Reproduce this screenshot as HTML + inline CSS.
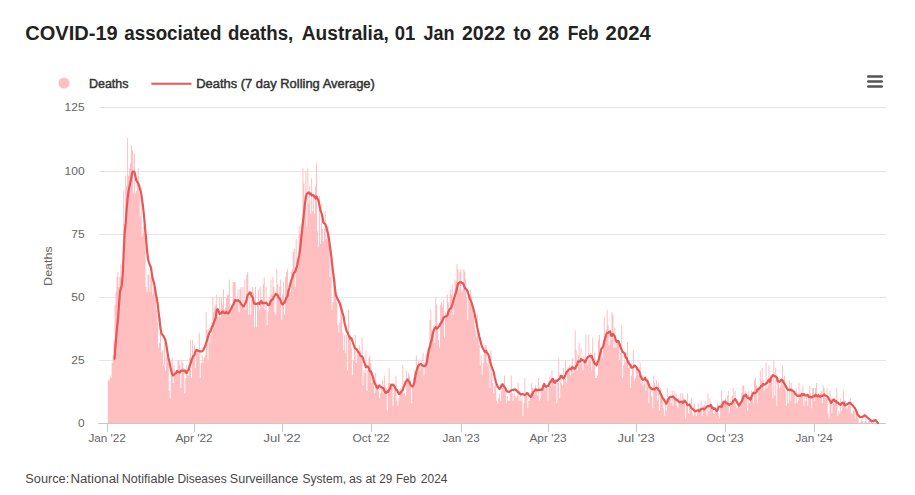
<!DOCTYPE html>
<html><head><meta charset="utf-8"><title>COVID-19 associated deaths, Australia</title>
<style>
html,body{margin:0;padding:0;background:#fff;}
body{width:915px;height:495px;overflow:hidden;}
svg{display:block;font-family:"Liberation Sans",Arial,sans-serif;}
.ax{font-size:11px;fill:#666;}
.lg{font-size:12px;font-weight:normal;fill:#333;stroke:#333;stroke-width:0.45px;}
</style></head><body>
<svg width="915" height="495" viewBox="0 0 915 495">
<rect width="915" height="495" fill="#fff"/>
<text y="39.6" font-size="20" font-weight="bold" fill="#222"><tspan x="25.30" textLength="92.38" lengthAdjust="spacingAndGlyphs">COVID-19</tspan> <tspan x="124.32" textLength="97.04" lengthAdjust="spacingAndGlyphs">associated</tspan> <tspan x="227.98" textLength="65.24" lengthAdjust="spacingAndGlyphs">deaths,</tspan> <tspan x="301.84" textLength="87.02" lengthAdjust="spacingAndGlyphs">Australia,</tspan> <tspan x="394.80" textLength="20.56" lengthAdjust="spacingAndGlyphs">01</tspan> <tspan x="423.48" textLength="31.04" lengthAdjust="spacingAndGlyphs">Jan</tspan> <tspan x="462.00" textLength="43.34" lengthAdjust="spacingAndGlyphs">2022</tspan> <tspan x="513.52" textLength="17.52" lengthAdjust="spacingAndGlyphs">to</tspan> <tspan x="538.00" textLength="21.00" lengthAdjust="spacingAndGlyphs">28</tspan> <tspan x="567.64" textLength="31.04" lengthAdjust="spacingAndGlyphs">Feb</tspan> <tspan x="605.64" textLength="45.02" lengthAdjust="spacingAndGlyphs">2024</tspan></text>
<circle cx="64" cy="83.1" r="5.5" fill="#ffbec0"/>
<text x="89" y="87.7" class="lg" textLength="39.5" lengthAdjust="spacingAndGlyphs">Deaths</text>
<path d="M151.3 83.8H191.5" stroke="#e95656" stroke-width="2"/>
<text x="196.3" y="87.7" class="lg" textLength="178.5" lengthAdjust="spacingAndGlyphs">Deaths (7 day Rolling Average)</text>
<path d="M868.3 76.5H881.7M868.3 81.5H881.7M868.3 86.5H881.7" stroke="#555" stroke-width="2.7" stroke-linecap="round"/>
<path d="M99 107.5H886" stroke="#e6e6e6" stroke-width="1"/><path d="M99 171.5H886" stroke="#e6e6e6" stroke-width="1"/><path d="M99 234.5H886" stroke="#e6e6e6" stroke-width="1"/><path d="M99 297.5H886" stroke="#e6e6e6" stroke-width="1"/><path d="M99 360.5H886" stroke="#e6e6e6" stroke-width="1"/>
<text x="84.6" y="426.9" text-anchor="end" class="ax" textLength="6.6" lengthAdjust="spacingAndGlyphs">0</text><text x="84.6" y="363.9" text-anchor="end" class="ax" textLength="13.4" lengthAdjust="spacingAndGlyphs">25</text><text x="84.6" y="300.9" text-anchor="end" class="ax" textLength="13.4" lengthAdjust="spacingAndGlyphs">50</text><text x="84.6" y="237.9" text-anchor="end" class="ax" textLength="13.4" lengthAdjust="spacingAndGlyphs">75</text><text x="84.6" y="174.9" text-anchor="end" class="ax" textLength="20.0" lengthAdjust="spacingAndGlyphs">100</text><text x="84.6" y="110.9" text-anchor="end" class="ax" textLength="20.0" lengthAdjust="spacingAndGlyphs">125</text>
<text transform="translate(52.2 266.1) rotate(-90)" text-anchor="middle" class="ax" font-size="12" textLength="39.6" lengthAdjust="spacingAndGlyphs">Deaths</text>
<path d="M107.75 423.5L107.75 380.54L108.71 380.54L108.71 380.54L109.68 380.54L109.68 375.48L110.65 375.48L110.65 378.01L111.62 378.01L111.62 362.85L112.59 362.85L112.59 355.27L113.56 355.27L113.56 340.10L114.53 340.10L114.53 304.72L115.50 304.72L115.50 292.09L116.47 292.09L116.47 276.92L117.43 276.92L117.43 271.87L118.40 271.87L118.40 287.03L119.37 287.03L119.37 276.92L120.34 276.92L120.34 264.29L121.31 264.29L121.31 281.98L122.28 281.98L122.28 266.81L123.25 266.81L123.25 191.00L124.22 191.00L124.22 223.85L125.19 223.85L125.19 175.83L126.15 175.83L126.15 185.94L127.12 185.94L127.12 137.93L128.09 137.93L128.09 175.83L129.06 175.83L129.06 168.25L130.03 168.25L130.03 163.20L131.00 163.20L131.00 145.51L131.97 145.51L131.97 150.56L132.94 150.56L132.94 193.52L133.90 193.52L133.90 153.09L134.87 153.09L134.87 193.52L135.84 193.52L135.84 191.00L136.81 191.00L136.81 178.36L137.78 178.36L137.78 168.25L138.75 168.25L138.75 193.52L139.72 193.52L139.72 216.27L140.69 216.27L140.69 188.47L141.66 188.47L141.66 236.49L142.62 236.49L142.62 226.38L143.59 226.38L143.59 233.96L144.56 233.96L144.56 228.91L145.53 228.91L145.53 287.03L146.50 287.03L146.50 292.09L147.47 292.09L147.47 274.40L148.44 274.40L148.44 274.40L149.41 274.40L149.41 292.09L150.38 292.09L150.38 276.92L151.34 276.92L151.34 266.81L152.31 266.81L152.31 294.61L153.28 294.61L153.28 287.03L154.25 287.03L154.25 287.03L155.22 287.03L155.22 287.03L156.19 287.03L156.19 309.78L157.16 309.78L157.16 322.41L158.13 322.41L158.13 347.68L159.10 347.68L159.10 342.63L160.06 342.63L160.06 317.36L161.03 317.36L161.03 352.74L162.00 352.74L162.00 350.21L162.97 350.21L162.97 365.37L163.94 365.37L163.94 342.63L164.91 342.63L164.91 370.43L165.88 370.43L165.88 357.79L166.85 357.79L166.85 350.21L167.81 350.21L167.81 362.85L168.78 362.85L168.78 390.65L169.75 390.65L169.75 398.23L170.72 398.23L170.72 372.96L171.69 372.96L171.69 357.79L172.66 357.79L172.66 383.06L173.63 383.06L173.63 365.37L174.60 365.37L174.60 372.96L175.57 372.96L175.57 372.96L176.53 372.96L176.53 370.43L177.50 370.43L177.50 360.32L178.47 360.32L178.47 360.32L179.44 360.32L179.44 365.37L180.41 365.37L180.41 388.12L181.38 388.12L181.38 360.32L182.35 360.32L182.35 362.85L183.32 362.85L183.32 367.90L184.29 367.90L184.29 393.17L185.25 393.17L185.25 378.01L186.22 378.01L186.22 365.37L187.19 365.37L187.19 375.48L188.16 375.48L188.16 375.48L189.13 375.48L189.13 357.79L190.10 357.79L190.10 340.10L191.07 340.10L191.07 378.01L192.04 378.01L192.04 340.10L193.01 340.10L193.01 355.27L193.97 355.27L193.97 345.16L194.94 345.16L194.94 367.90L195.91 367.90L195.91 352.74L196.88 352.74L196.88 352.74L197.85 352.74L197.85 352.74L198.82 352.74L198.82 332.52L199.79 332.52L199.79 378.01L200.76 378.01L200.76 362.85L201.72 362.85L201.72 355.27L202.69 355.27L202.69 362.85L203.66 362.85L203.66 357.79L204.63 357.79L204.63 355.27L205.60 355.27L205.60 312.30L206.57 312.30L206.57 329.99L207.54 329.99L207.54 360.32L208.51 360.32L208.51 327.47L209.48 327.47L209.48 342.63L210.44 342.63L210.44 335.05L211.41 335.05L211.41 322.41L212.38 322.41L212.38 297.14L213.35 297.14L213.35 312.30L214.32 312.30L214.32 307.25L215.29 307.25L215.29 304.72L216.26 304.72L216.26 294.61L217.23 294.61L217.23 317.36L218.20 317.36L218.20 317.36L219.16 317.36L219.16 297.14L220.13 297.14L220.13 317.36L221.10 317.36L221.10 297.14L222.07 297.14L222.07 304.72L223.04 304.72L223.04 289.56L224.01 289.56L224.01 309.78L224.98 309.78L224.98 307.25L225.95 307.25L225.95 297.14L226.92 297.14L226.92 294.61L227.88 294.61L227.88 294.61L228.85 294.61L228.85 279.45L229.82 279.45L229.82 309.78L230.79 309.78L230.79 312.30L231.76 312.30L231.76 304.72L232.73 304.72L232.73 281.98L233.70 281.98L233.70 281.98L234.67 281.98L234.67 281.98L235.64 281.98L235.64 302.19L236.60 302.19L236.60 302.19L237.57 302.19L237.57 289.56L238.54 289.56L238.54 312.30L239.51 312.30L239.51 289.56L240.48 289.56L240.48 287.03L241.45 287.03L241.45 307.25L242.42 307.25L242.42 287.03L243.39 287.03L243.39 309.78L244.35 309.78L244.35 279.45L245.32 279.45L245.32 309.78L246.29 309.78L246.29 274.40L247.26 274.40L247.26 271.87L248.23 271.87L248.23 314.83L249.20 314.83L249.20 297.14L250.17 297.14L250.17 314.83L251.14 314.83L251.14 299.67L252.11 299.67L252.11 287.03L253.07 287.03L253.07 292.09L254.04 292.09L254.04 327.47L255.01 327.47L255.01 287.03L255.98 287.03L255.98 327.47L256.95 327.47L256.95 304.72L257.92 304.72L257.92 289.56L258.89 289.56L258.89 309.78L259.86 309.78L259.86 287.03L260.83 287.03L260.83 304.72L261.79 304.72L261.79 307.25L262.76 307.25L262.76 284.50L263.73 284.50L263.73 276.92L264.70 276.92L264.70 309.78L265.67 309.78L265.67 287.03L266.64 287.03L266.64 324.94L267.61 324.94L267.61 312.30L268.58 312.30L268.58 297.14L269.55 297.14L269.55 302.19L270.51 302.19L270.51 279.45L271.48 279.45L271.48 294.61L272.45 294.61L272.45 276.92L273.42 276.92L273.42 287.03L274.39 287.03L274.39 312.30L275.36 312.30L275.36 314.83L276.33 314.83L276.33 269.34L277.30 269.34L277.30 284.50L278.26 284.50L278.26 294.61L279.23 294.61L279.23 287.03L280.20 287.03L280.20 279.45L281.17 279.45L281.17 319.88L282.14 319.88L282.14 294.61L283.11 294.61L283.11 281.98L284.08 281.98L284.08 314.83L285.05 314.83L285.05 276.92L286.02 276.92L286.02 271.87L286.98 271.87L286.98 269.34L287.95 269.34L287.95 289.56L288.92 289.56L288.92 284.50L289.89 284.50L289.89 292.09L290.86 292.09L290.86 271.87L291.83 271.87L291.83 269.34L292.80 269.34L292.80 251.65L293.77 251.65L293.77 249.12L294.74 249.12L294.74 287.03L295.70 287.03L295.70 239.01L296.67 239.01L296.67 261.76L297.64 261.76L297.64 266.81L298.61 266.81L298.61 226.38L299.58 226.38L299.58 233.96L300.55 233.96L300.55 223.85L301.52 223.85L301.52 231.43L302.49 231.43L302.49 168.25L303.46 168.25L303.46 183.42L304.42 183.42L304.42 206.16L305.39 206.16L305.39 170.78L306.36 170.78L306.36 226.38L307.33 226.38L307.33 168.25L308.30 168.25L308.30 203.63L309.27 203.63L309.27 185.94L310.24 185.94L310.24 213.74L311.21 213.74L311.21 178.36L312.18 178.36L312.18 211.22L313.14 211.22L313.14 196.05L314.11 196.05L314.11 213.74L315.08 213.74L315.08 185.94L316.05 185.94L316.05 163.20L317.02 163.20L317.02 231.43L317.99 231.43L317.99 246.60L318.96 246.60L318.96 196.05L319.93 196.05L319.93 244.07L320.89 244.07L320.89 203.63L321.86 203.63L321.86 228.91L322.83 228.91L322.83 241.54L323.80 241.54L323.80 228.91L324.77 228.91L324.77 211.22L325.74 211.22L325.74 239.01L326.71 239.01L326.71 233.96L327.68 233.96L327.68 226.38L328.65 226.38L328.65 241.54L329.61 241.54L329.61 276.92L330.58 276.92L330.58 259.23L331.55 259.23L331.55 309.78L332.52 309.78L332.52 302.19L333.49 302.19L333.49 284.50L334.46 284.50L334.46 279.45L335.43 279.45L335.43 292.09L336.40 292.09L336.40 302.19L337.37 302.19L337.37 324.94L338.33 324.94L338.33 332.52L339.30 332.52L339.30 322.41L340.27 322.41L340.27 304.72L341.24 304.72L341.24 302.19L342.21 302.19L342.21 332.52L343.18 332.52L343.18 350.21L344.15 350.21L344.15 335.05L345.12 335.05L345.12 352.74L346.09 352.74L346.09 335.05L347.05 335.05L347.05 370.43L348.02 370.43L348.02 309.78L348.99 309.78L348.99 337.58L349.96 337.58L349.96 335.05L350.93 335.05L350.93 347.68L351.90 347.68L351.90 375.48L352.87 375.48L352.87 360.32L353.84 360.32L353.84 350.21L354.80 350.21L354.80 335.05L355.77 335.05L355.77 362.85L356.74 362.85L356.74 350.21L357.71 350.21L357.71 355.27L358.68 355.27L358.68 345.16L359.65 345.16L359.65 350.21L360.62 350.21L360.62 355.27L361.59 355.27L361.59 337.58L362.56 337.58L362.56 385.59L363.52 385.59L363.52 370.43L364.49 370.43L364.49 372.96L365.46 372.96L365.46 350.21L366.43 350.21L366.43 390.65L367.40 390.65L367.40 370.43L368.37 370.43L368.37 357.79L369.34 357.79L369.34 355.27L370.31 355.27L370.31 362.85L371.28 362.85L371.28 383.06L372.24 383.06L372.24 378.01L373.21 378.01L373.21 378.01L374.18 378.01L374.18 393.17L375.15 393.17L375.15 372.96L376.12 372.96L376.12 388.12L377.09 388.12L377.09 385.59L378.06 385.59L378.06 390.65L379.03 390.65L379.03 398.23L380.00 398.23L380.00 393.17L380.96 393.17L380.96 385.59L381.93 385.59L381.93 380.54L382.90 380.54L382.90 393.17L383.87 393.17L383.87 375.48L384.84 375.48L384.84 385.59L385.81 385.59L385.81 388.12L386.78 388.12L386.78 410.86L387.75 410.86L387.75 383.06L388.71 383.06L388.71 367.90L389.68 367.90L389.68 383.06L390.65 383.06L390.65 388.12L391.62 388.12L391.62 383.06L392.59 383.06L392.59 405.81L393.56 405.81L393.56 383.06L394.53 383.06L394.53 390.65L395.50 390.65L395.50 375.48L396.47 375.48L396.47 400.76L397.43 400.76L397.43 405.81L398.40 405.81L398.40 398.23L399.37 398.23L399.37 390.65L400.34 390.65L400.34 388.12L401.31 388.12L401.31 390.65L402.28 390.65L402.28 365.37L403.25 365.37L403.25 393.17L404.22 393.17L404.22 393.17L405.19 393.17L405.19 395.70L406.15 395.70L406.15 370.43L407.12 370.43L407.12 378.01L408.09 378.01L408.09 372.96L409.06 372.96L409.06 375.48L410.03 375.48L410.03 380.54L411.00 380.54L411.00 403.28L411.97 403.28L411.97 388.12L412.94 388.12L412.94 378.01L413.91 378.01L413.91 370.43L414.87 370.43L414.87 378.01L415.84 378.01L415.84 355.27L416.81 355.27L416.81 370.43L417.78 370.43L417.78 360.32L418.75 360.32L418.75 365.37L419.72 365.37L419.72 370.43L420.69 370.43L420.69 360.32L421.66 360.32L421.66 367.90L422.63 367.90L422.63 352.74L423.59 352.74L423.59 375.48L424.56 375.48L424.56 362.85L425.53 362.85L425.53 355.27L426.50 355.27L426.50 352.74L427.47 352.74L427.47 347.68L428.44 347.68L428.44 347.68L429.41 347.68L429.41 319.88L430.38 319.88L430.38 309.78L431.34 309.78L431.34 329.99L432.31 329.99L432.31 335.05L433.28 335.05L433.28 324.94L434.25 324.94L434.25 342.63L435.22 342.63L435.22 297.14L436.19 297.14L436.19 304.72L437.16 304.72L437.16 327.47L438.13 327.47L438.13 340.10L439.10 340.10L439.10 347.68L440.06 347.68L440.06 304.72L441.03 304.72L441.03 302.19L442.00 302.19L442.00 307.25L442.97 307.25L442.97 299.67L443.94 299.67L443.94 337.58L444.91 337.58L444.91 312.30L445.88 312.30L445.88 314.83L446.85 314.83L446.85 294.61L447.82 294.61L447.82 302.19L448.78 302.19L448.78 309.78L449.75 309.78L449.75 289.56L450.72 289.56L450.72 294.61L451.69 294.61L451.69 284.50L452.66 284.50L452.66 314.83L453.63 314.83L453.63 297.14L454.60 297.14L454.60 279.45L455.57 279.45L455.57 281.98L456.54 281.98L456.54 264.29L457.50 264.29L457.50 269.34L458.47 269.34L458.47 289.56L459.44 289.56L459.44 271.87L460.41 271.87L460.41 269.34L461.38 269.34L461.38 292.09L462.35 292.09L462.35 289.56L463.32 289.56L463.32 269.34L464.29 269.34L464.29 271.87L465.25 271.87L465.25 279.45L466.22 279.45L466.22 297.14L467.19 297.14L467.19 319.88L468.16 319.88L468.16 294.61L469.13 294.61L469.13 302.19L470.10 302.19L470.10 289.56L471.07 289.56L471.07 297.14L472.04 297.14L472.04 307.25L473.01 307.25L473.01 314.83L473.97 314.83L473.97 324.94L474.94 324.94L474.94 329.99L475.91 329.99L475.91 337.58L476.88 337.58L476.88 314.83L477.85 314.83L477.85 332.52L478.82 332.52L478.82 345.16L479.79 345.16L479.79 365.37L480.76 365.37L480.76 355.27L481.73 355.27L481.73 375.48L482.69 375.48L482.69 362.85L483.66 362.85L483.66 350.21L484.63 350.21L484.63 345.16L485.60 345.16L485.60 345.16L486.57 345.16L486.57 362.85L487.54 362.85L487.54 365.37L488.51 365.37L488.51 355.27L489.48 355.27L489.48 388.12L490.45 388.12L490.45 350.21L491.41 350.21L491.41 372.96L492.38 372.96L492.38 383.06L493.35 383.06L493.35 393.17L494.32 393.17L494.32 385.59L495.29 385.59L495.29 378.01L496.26 378.01L496.26 400.76L497.23 400.76L497.23 403.28L498.20 403.28L498.20 398.23L499.17 398.23L499.17 393.17L500.13 393.17L500.13 400.76L501.10 400.76L501.10 390.65L502.07 390.65L502.07 388.12L503.04 388.12L503.04 388.12L504.01 388.12L504.01 375.48L504.98 375.48L504.98 388.12L505.95 388.12L505.95 403.28L506.92 403.28L506.92 395.70L507.88 395.70L507.88 400.76L508.85 400.76L508.85 400.76L509.82 400.76L509.82 393.17L510.79 393.17L510.79 375.48L511.76 375.48L511.76 393.17L512.73 393.17L512.73 400.76L513.70 400.76L513.70 393.17L514.67 393.17L514.67 395.70L515.64 395.70L515.64 398.23L516.60 398.23L516.60 395.70L517.57 395.70L517.57 383.06L518.54 383.06L518.54 400.76L519.51 400.76L519.51 395.70L520.48 395.70L520.48 400.76L521.45 400.76L521.45 398.23L522.42 398.23L522.42 415.92L523.39 415.92L523.39 403.28L524.36 403.28L524.36 378.01L525.32 378.01L525.32 395.70L526.29 395.70L526.29 395.70L527.26 395.70L527.26 408.34L528.23 408.34L528.23 400.76L529.20 400.76L529.20 400.76L530.17 400.76L530.17 393.17L531.14 393.17L531.14 383.06L532.11 383.06L532.11 388.12L533.08 388.12L533.08 393.17L534.04 393.17L534.04 393.17L535.01 393.17L535.01 385.59L535.98 385.59L535.98 388.12L536.95 388.12L536.95 395.70L537.92 395.70L537.92 378.01L538.89 378.01L538.89 400.76L539.86 400.76L539.86 398.23L540.83 398.23L540.83 388.12L541.79 388.12L541.79 390.65L542.76 390.65L542.76 385.59L543.73 385.59L543.73 383.06L544.70 383.06L544.70 390.65L545.67 390.65L545.67 385.59L546.64 385.59L546.64 388.12L547.61 388.12L547.61 400.76L548.58 400.76L548.58 380.54L549.55 380.54L549.55 375.48L550.51 375.48L550.51 385.59L551.48 385.59L551.48 370.43L552.45 370.43L552.45 378.01L553.42 378.01L553.42 385.59L554.39 385.59L554.39 385.59L555.36 385.59L555.36 383.06L556.33 383.06L556.33 403.28L557.30 403.28L557.30 383.06L558.27 383.06L558.27 357.79L559.23 357.79L559.23 398.23L560.20 398.23L560.20 380.54L561.17 380.54L561.17 383.06L562.14 383.06L562.14 385.59L563.11 385.59L563.11 367.90L564.08 367.90L564.08 380.54L565.05 380.54L565.05 360.32L566.02 360.32L566.02 383.06L566.99 383.06L566.99 370.43L567.95 370.43L567.95 372.96L568.92 372.96L568.92 365.37L569.89 365.37L569.89 375.48L570.86 375.48L570.86 365.37L571.83 365.37L571.83 357.79L572.80 357.79L572.80 372.96L573.77 372.96L573.77 367.90L574.74 367.90L574.74 329.99L575.70 329.99L575.70 350.21L576.67 350.21L576.67 370.43L577.64 370.43L577.64 355.27L578.61 355.27L578.61 342.63L579.58 342.63L579.58 365.37L580.55 365.37L580.55 347.68L581.52 347.68L581.52 362.85L582.49 362.85L582.49 370.43L583.46 370.43L583.46 355.27L584.42 355.27L584.42 362.85L585.39 362.85L585.39 335.05L586.36 335.05L586.36 357.79L587.33 357.79L587.33 365.37L588.30 365.37L588.30 335.05L589.27 335.05L589.27 360.32L590.24 360.32L590.24 352.74L591.21 352.74L591.21 370.43L592.18 370.43L592.18 337.58L593.14 337.58L593.14 365.37L594.11 365.37L594.11 352.74L595.08 352.74L595.08 378.01L596.05 378.01L596.05 378.01L597.02 378.01L597.02 375.48L597.99 375.48L597.99 340.10L598.96 340.10L598.96 335.05L599.93 335.05L599.93 355.27L600.90 355.27L600.90 347.68L601.86 347.68L601.86 357.79L602.83 357.79L602.83 340.10L603.80 340.10L603.80 317.36L604.77 317.36L604.77 337.58L605.74 337.58L605.74 329.99L606.71 329.99L606.71 309.78L607.68 309.78L607.68 324.94L608.65 324.94L608.65 345.16L609.62 345.16L609.62 329.99L610.58 329.99L610.58 340.10L611.55 340.10L611.55 312.30L612.52 312.30L612.52 314.83L613.49 314.83L613.49 347.68L614.46 347.68L614.46 327.47L615.43 327.47L615.43 347.68L616.40 347.68L616.40 340.10L617.37 340.10L617.37 342.63L618.33 342.63L618.33 342.63L619.30 342.63L619.30 360.32L620.27 360.32L620.27 352.74L621.24 352.74L621.24 324.94L622.21 324.94L622.21 378.01L623.18 378.01L623.18 365.37L624.15 365.37L624.15 360.32L625.12 360.32L625.12 362.85L626.09 362.85L626.09 352.74L627.05 352.74L627.05 342.63L628.02 342.63L628.02 367.90L628.99 367.90L628.99 360.32L629.96 360.32L629.96 388.12L630.93 388.12L630.93 375.48L631.90 375.48L631.90 367.90L632.87 367.90L632.87 350.21L633.84 350.21L633.84 380.54L634.81 380.54L634.81 378.01L635.77 378.01L635.77 367.90L636.74 367.90L636.74 367.90L637.71 367.90L637.71 375.48L638.68 375.48L638.68 375.48L639.65 375.48L639.65 362.85L640.62 362.85L640.62 383.06L641.59 383.06L641.59 375.48L642.56 375.48L642.56 385.59L643.53 385.59L643.53 383.06L644.49 383.06L644.49 375.48L645.46 375.48L645.46 390.65L646.43 390.65L646.43 380.54L647.40 380.54L647.40 378.01L648.37 378.01L648.37 403.28L649.34 403.28L649.34 388.12L650.31 388.12L650.31 390.65L651.28 390.65L651.28 395.70L652.24 395.70L652.24 408.34L653.21 408.34L653.21 375.48L654.18 375.48L654.18 383.06L655.15 383.06L655.15 390.65L656.12 390.65L656.12 380.54L657.09 380.54L657.09 400.76L658.06 400.76L658.06 383.06L659.03 383.06L659.03 410.86L660.00 410.86L660.00 388.12L660.96 388.12L660.96 395.70L661.93 395.70L661.93 395.70L662.90 395.70L662.90 408.34L663.87 408.34L663.87 415.92L664.84 415.92L664.84 403.28L665.81 403.28L665.81 410.86L666.78 410.86L666.78 388.12L667.75 388.12L667.75 400.76L668.72 400.76L668.72 398.23L669.68 398.23L669.68 398.23L670.65 398.23L670.65 403.28L671.62 403.28L671.62 390.65L672.59 390.65L672.59 405.81L673.56 405.81L673.56 390.65L674.53 390.65L674.53 400.76L675.50 400.76L675.50 393.17L676.47 393.17L676.47 405.81L677.44 405.81L677.44 408.34L678.40 408.34L678.40 398.23L679.37 398.23L679.37 400.76L680.34 400.76L680.34 393.17L681.31 393.17L681.31 400.76L682.28 400.76L682.28 393.17L683.25 393.17L683.25 398.23L684.22 398.23L684.22 403.28L685.19 403.28L685.19 418.45L686.15 418.45L686.15 403.28L687.12 403.28L687.12 393.17L688.09 393.17L688.09 413.39L689.06 413.39L689.06 408.34L690.03 408.34L690.03 410.86L691.00 410.86L691.00 398.23L691.97 398.23L691.97 413.39L692.94 413.39L692.94 415.92L693.91 415.92L693.91 403.28L694.87 403.28L694.87 413.39L695.84 413.39L695.84 415.92L696.81 415.92L696.81 413.39L697.78 413.39L697.78 403.28L698.75 403.28L698.75 408.34L699.72 408.34L699.72 410.86L700.69 410.86L700.69 400.76L701.66 400.76L701.66 415.92L702.63 415.92L702.63 405.81L703.59 405.81L703.59 405.81L704.56 405.81L704.56 400.76L705.53 400.76L705.53 408.34L706.50 408.34L706.50 415.92L707.47 415.92L707.47 393.17L708.44 393.17L708.44 410.86L709.41 410.86L709.41 398.23L710.38 398.23L710.38 408.34L711.35 408.34L711.35 405.81L712.31 405.81L712.31 408.34L713.28 408.34L713.28 413.39L714.25 413.39L714.25 413.39L715.22 413.39L715.22 408.34L716.19 408.34L716.19 408.34L717.16 408.34L717.16 403.28L718.13 403.28L718.13 413.39L719.10 413.39L719.10 418.45L720.07 418.45L720.07 403.28L721.03 403.28L721.03 390.65L722.00 390.65L722.00 400.76L722.97 400.76L722.97 403.28L723.94 403.28L723.94 403.28L724.91 403.28L724.91 398.23L725.88 398.23L725.88 403.28L726.85 403.28L726.85 395.70L727.82 395.70L727.82 390.65L728.78 390.65L728.78 413.39L729.75 413.39L729.75 400.76L730.72 400.76L730.72 405.81L731.69 405.81L731.69 395.70L732.66 395.70L732.66 388.12L733.63 388.12L733.63 400.76L734.60 400.76L734.60 390.65L735.57 390.65L735.57 405.81L736.54 405.81L736.54 408.34L737.50 408.34L737.50 400.76L738.47 400.76L738.47 405.81L739.44 405.81L739.44 403.28L740.41 403.28L740.41 403.28L741.38 403.28L741.38 393.17L742.35 393.17L742.35 385.59L743.32 385.59L743.32 385.59L744.29 385.59L744.29 395.70L745.26 395.70L745.26 390.65L746.22 390.65L746.22 393.17L747.19 393.17L747.19 410.86L748.16 410.86L748.16 390.65L749.13 390.65L749.13 403.28L750.10 403.28L750.10 395.70L751.07 395.70L751.07 390.65L752.04 390.65L752.04 395.70L753.01 395.70L753.01 403.28L753.98 403.28L753.98 380.54L754.94 380.54L754.94 378.01L755.91 378.01L755.91 385.59L756.88 385.59L756.88 403.28L757.85 403.28L757.85 388.12L758.82 388.12L758.82 388.12L759.79 388.12L759.79 370.43L760.76 370.43L760.76 380.54L761.73 380.54L761.73 367.90L762.69 367.90L762.69 380.54L763.66 380.54L763.66 390.65L764.63 390.65L764.63 388.12L765.60 388.12L765.60 362.85L766.57 362.85L766.57 388.12L767.54 388.12L767.54 385.59L768.51 385.59L768.51 365.37L769.48 365.37L769.48 378.01L770.45 378.01L770.45 375.48L771.41 375.48L771.41 375.48L772.38 375.48L772.38 398.23L773.35 398.23L773.35 360.32L774.32 360.32L774.32 395.70L775.29 395.70L775.29 367.90L776.26 367.90L776.26 405.81L777.23 405.81L777.23 380.54L778.20 380.54L778.20 378.01L779.17 378.01L779.17 388.12L780.13 388.12L780.13 385.59L781.10 385.59L781.10 378.01L782.07 378.01L782.07 365.37L783.04 365.37L783.04 380.54L784.01 380.54L784.01 375.48L784.98 375.48L784.98 390.65L785.95 390.65L785.95 405.81L786.92 405.81L786.92 388.12L787.89 388.12L787.89 403.28L788.85 403.28L788.85 380.54L789.82 380.54L789.82 400.76L790.79 400.76L790.79 383.06L791.76 383.06L791.76 390.65L792.73 390.65L792.73 393.17L793.70 393.17L793.70 395.70L794.67 395.70L794.67 403.28L795.64 403.28L795.64 388.12L796.61 388.12L796.61 403.28L797.57 403.28L797.57 400.76L798.54 400.76L798.54 383.06L799.51 383.06L799.51 398.23L800.48 398.23L800.48 390.65L801.45 390.65L801.45 395.70L802.42 395.70L802.42 385.59L803.39 385.59L803.39 405.81L804.36 405.81L804.36 395.70L805.32 395.70L805.32 400.76L806.29 400.76L806.29 395.70L807.26 395.70L807.26 405.81L808.23 405.81L808.23 395.70L809.20 395.70L809.20 385.59L810.17 385.59L810.17 393.17L811.14 393.17L811.14 408.34L812.11 408.34L812.11 388.12L813.08 388.12L813.08 388.12L814.04 388.12L814.04 400.76L815.01 400.76L815.01 388.12L815.98 388.12L815.98 383.06L816.95 383.06L816.95 395.70L817.92 395.70L817.92 393.17L818.89 393.17L818.89 398.23L819.86 398.23L819.86 393.17L820.83 393.17L820.83 390.65L821.80 390.65L821.80 403.28L822.76 403.28L822.76 385.59L823.73 385.59L823.73 388.12L824.70 388.12L824.70 398.23L825.67 398.23L825.67 398.23L826.64 398.23L826.64 388.12L827.61 388.12L827.61 413.39L828.58 413.39L828.58 418.45L829.55 418.45L829.55 390.65L830.52 390.65L830.52 398.23L831.48 398.23L831.48 413.39L832.45 413.39L832.45 400.76L833.42 400.76L833.42 403.28L834.39 403.28L834.39 403.28L835.36 403.28L835.36 400.76L836.33 400.76L836.33 388.12L837.30 388.12L837.30 415.92L838.27 415.92L838.27 410.86L839.23 410.86L839.23 413.39L840.20 413.39L840.20 398.23L841.17 398.23L841.17 410.86L842.14 410.86L842.14 405.81L843.11 405.81L843.11 390.65L844.08 390.65L844.08 400.76L845.05 400.76L845.05 400.76L846.02 400.76L846.02 408.34L846.99 408.34L846.99 408.34L847.95 408.34L847.95 405.81L848.92 405.81L848.92 403.28L849.89 403.28L849.89 398.23L850.86 398.23L850.86 413.39L851.83 413.39L851.83 413.39L852.80 413.39L852.80 410.86L853.77 410.86L853.77 410.86L854.74 410.86L854.74 418.45L855.71 418.45L855.71 410.86L856.67 410.86L856.67 410.86L857.64 410.86L857.64 418.45L858.61 418.45L858.61 423.50L859.58 423.50L859.58 423.50L860.55 423.50L860.55 420.97L861.52 420.97L861.52 418.45L862.49 418.45L862.49 420.97L863.46 420.97L863.46 423.50L864.43 423.50L864.43 420.97L865.39 420.97L865.39 418.45L866.36 418.45L866.36 423.50L867.33 423.50L867.33 423.50L868.30 423.50L868.30 420.97L869.27 420.97L869.27 420.97L870.24 420.97L870.24 423.50L871.21 423.50L871.21 423.50L872.18 423.50L872.18 423.50L873.14 423.50L873.14 418.45L874.11 418.45L874.11 423.50L875.08 423.50L875.08 423.50L876.05 423.50L876.05 423.50L877.02 423.50L877.02 420.97L877.99 420.97L877.99 423.50L878.96 423.50L878.96 423.5Z" fill="#ffbec0"/>
<path d="M98 423.5H886" stroke="#c4c8d0" stroke-width="1"/>
<path d="M107.5 423.5V432" stroke="#c4c8d0" stroke-width="1"/><path d="M194.5 423.5V432" stroke="#c4c8d0" stroke-width="1"/><path d="M282.5 423.5V432" stroke="#c4c8d0" stroke-width="1"/><path d="M371.5 423.5V432" stroke="#c4c8d0" stroke-width="1"/><path d="M461.5 423.5V432" stroke="#c4c8d0" stroke-width="1"/><path d="M548.5 423.5V432" stroke="#c4c8d0" stroke-width="1"/><path d="M636.5 423.5V432" stroke="#c4c8d0" stroke-width="1"/><path d="M725.5 423.5V432" stroke="#c4c8d0" stroke-width="1"/><path d="M814.5 423.5V432" stroke="#c4c8d0" stroke-width="1"/>
<text x="107.1" y="441.6" text-anchor="middle" class="ax" textLength="37.3" lengthAdjust="spacingAndGlyphs">Jan '22</text><text x="194.1" y="441.6" text-anchor="middle" class="ax" textLength="37.3" lengthAdjust="spacingAndGlyphs">Apr '22</text><text x="282.1" y="441.6" text-anchor="middle" class="ax" textLength="37.3" lengthAdjust="spacingAndGlyphs">Jul '22</text><text x="371.1" y="441.6" text-anchor="middle" class="ax" textLength="37.3" lengthAdjust="spacingAndGlyphs">Oct '22</text><text x="461.1" y="441.6" text-anchor="middle" class="ax" textLength="37.3" lengthAdjust="spacingAndGlyphs">Jan '23</text><text x="548.1" y="441.6" text-anchor="middle" class="ax" textLength="37.3" lengthAdjust="spacingAndGlyphs">Apr '23</text><text x="636.1" y="441.6" text-anchor="middle" class="ax" textLength="37.3" lengthAdjust="spacingAndGlyphs">Jul '23</text><text x="725.1" y="441.6" text-anchor="middle" class="ax" textLength="37.3" lengthAdjust="spacingAndGlyphs">Oct '23</text><text x="814.1" y="441.6" text-anchor="middle" class="ax" textLength="37.3" lengthAdjust="spacingAndGlyphs">Jan '24</text>
<path d="M114.6 358.8 L115.0 350.9 L116.0 340.0 L116.9 329.2 L117.9 319.6 L118.9 306.8 L119.9 292.5 L120.8 288.5 L121.8 285.0 L122.8 272.8 L123.7 252.0 L124.7 232.2 L125.7 223.4 L126.6 209.5 L127.6 198.3 L128.6 190.9 L129.5 186.3 L130.5 182.1 L131.5 177.1 L132.5 171.9 L133.4 171.6 L134.4 172.0 L135.4 175.9 L136.3 180.5 L137.3 182.0 L138.3 183.3 L139.2 186.2 L140.2 189.8 L141.2 193.7 L142.1 199.8 L143.1 207.4 L144.1 216.5 L145.0 227.7 L146.0 237.7 L147.0 250.0 L148.0 258.7 L148.9 262.4 L149.9 264.9 L150.9 267.3 L151.8 273.3 L152.8 279.1 L153.8 282.3 L154.7 286.4 L155.7 292.9 L156.7 297.9 L157.6 303.1 L158.6 312.0 L159.6 321.0 L160.5 328.2 L161.5 333.7 L162.5 335.0 L163.5 335.9 L164.4 338.0 L165.4 339.9 L166.4 345.5 L167.3 351.1 L168.3 357.5 L169.3 361.2 L170.2 366.0 L171.2 370.6 L172.2 374.1 L173.1 375.4 L174.1 374.6 L175.1 373.3 L176.1 372.9 L177.0 370.9 L178.0 372.1 L179.0 372.2 L179.9 372.4 L180.9 370.6 L181.9 370.7 L182.8 370.7 L183.8 371.0 L184.8 370.5 L185.7 372.5 L186.7 373.0 L187.7 370.8 L188.6 369.7 L189.6 366.0 L190.6 363.7 L191.6 359.9 L192.5 357.8 L193.5 355.8 L194.5 355.1 L195.4 351.6 L196.4 349.9 L197.4 350.3 L198.3 351.3 L199.3 350.8 L200.3 351.5 L201.2 351.4 L202.2 351.3 L203.2 350.3 L204.1 347.8 L205.1 346.4 L206.1 343.2 L207.1 340.2 L208.0 336.9 L209.0 333.4 L210.0 331.9 L210.9 330.2 L211.9 327.0 L212.9 325.6 L213.8 322.5 L214.8 320.1 L215.8 317.6 L216.7 309.8 L217.7 309.1 L218.7 311.4 L219.6 314.1 L220.6 313.6 L221.6 312.6 L222.6 311.3 L223.5 312.6 L224.5 312.8 L225.5 313.2 L226.4 311.9 L227.4 313.1 L228.4 313.4 L229.3 312.2 L230.3 310.4 L231.3 308.5 L232.2 306.1 L233.2 304.9 L234.2 302.1 L235.2 299.9 L236.1 300.8 L237.1 300.7 L238.1 300.1 L239.0 301.2 L240.0 301.9 L241.0 303.8 L241.9 304.8 L242.9 306.5 L243.9 306.2 L244.8 304.0 L245.8 302.7 L246.8 299.1 L247.7 295.0 L248.7 294.3 L249.7 292.3 L250.7 292.8 L251.6 296.4 L252.6 297.2 L253.6 301.5 L254.5 303.8 L255.5 303.8 L256.5 303.8 L257.4 303.7 L258.4 302.9 L259.4 304.1 L260.3 302.1 L261.3 300.9 L262.3 303.5 L263.2 302.8 L264.2 303.1 L265.2 302.8 L266.2 302.6 L267.1 303.7 L268.1 305.2 L269.1 305.0 L270.0 303.3 L271.0 300.4 L272.0 299.6 L272.9 299.4 L273.9 296.7 L274.9 295.6 L275.8 293.8 L276.8 294.6 L277.8 295.6 L278.7 297.6 L279.7 298.5 L280.7 300.8 L281.7 303.9 L282.6 304.5 L283.6 303.3 L284.6 302.6 L285.5 299.8 L286.5 297.6 L287.5 296.0 L288.4 291.1 L289.4 287.8 L290.4 283.8 L291.3 280.4 L292.3 278.0 L293.3 274.3 L294.3 272.5 L295.2 271.9 L296.2 268.2 L297.2 266.0 L298.1 260.3 L299.1 256.0 L300.1 249.3 L301.0 240.4 L302.0 231.4 L303.0 221.9 L303.9 213.2 L304.9 203.9 L305.9 197.0 L306.8 193.7 L307.8 193.2 L308.8 192.4 L309.8 194.2 L310.7 193.5 L311.7 195.4 L312.7 195.1 L313.6 195.3 L314.6 196.9 L315.6 198.4 L316.5 196.4 L317.5 198.6 L318.5 200.8 L319.4 204.9 L320.4 210.4 L321.4 212.8 L322.3 216.1 L323.3 222.2 L324.3 223.3 L325.3 224.3 L326.2 226.5 L327.2 231.0 L328.2 234.3 L329.1 239.8 L330.1 247.3 L331.1 254.8 L332.0 263.0 L333.0 271.7 L334.0 279.1 L334.9 288.0 L335.9 295.3 L336.9 297.4 L337.8 299.7 L338.8 301.2 L339.8 303.4 L340.8 307.0 L341.7 310.0 L342.7 313.5 L343.7 316.8 L344.6 323.2 L345.6 327.1 L346.6 331.1 L347.5 332.4 L348.5 334.9 L349.5 337.1 L350.4 338.7 L351.4 338.1 L352.4 341.1 L353.4 344.0 L354.3 346.7 L355.3 348.9 L356.3 348.8 L357.2 350.2 L358.2 352.0 L359.2 353.2 L360.1 355.3 L361.1 356.0 L362.1 356.5 L363.0 358.0 L364.0 361.8 L365.0 364.3 L365.9 367.2 L366.9 366.3 L367.9 366.6 L368.9 368.2 L369.8 371.2 L370.8 371.2 L371.8 373.8 L372.7 376.1 L373.7 379.9 L374.7 383.1 L375.6 384.6 L376.6 386.8 L377.6 388.3 L378.5 386.2 L379.5 385.5 L380.5 387.0 L381.4 387.3 L382.4 387.9 L383.4 388.1 L384.4 391.2 L385.3 392.6 L386.3 392.8 L387.3 391.3 L388.2 391.8 L389.2 389.5 L390.2 388.5 L391.1 384.8 L392.1 384.8 L393.1 384.8 L394.0 385.8 L395.0 387.2 L396.0 390.0 L397.0 390.2 L397.9 392.1 L398.9 393.9 L399.9 393.5 L400.8 392.5 L401.8 391.0 L402.8 390.0 L403.7 386.9 L404.7 384.8 L405.7 381.7 L406.6 380.7 L407.6 379.6 L408.6 381.2 L409.5 382.0 L410.5 384.8 L411.5 386.1 L412.5 386.6 L413.4 385.0 L414.4 382.1 L415.4 376.1 L416.3 371.7 L417.3 368.5 L418.3 365.8 L419.2 364.7 L420.2 364.1 L421.2 364.2 L422.1 365.3 L423.1 365.9 L424.1 366.2 L425.0 366.0 L426.0 364.8 L427.0 361.6 L428.0 354.4 L428.9 349.6 L429.9 346.4 L430.9 342.3 L431.8 339.4 L432.8 333.7 L433.8 330.1 L434.7 328.4 L435.7 327.2 L436.7 328.6 L437.6 328.1 L438.6 326.6 L439.6 325.5 L440.5 323.5 L441.5 322.5 L442.5 320.2 L443.5 317.9 L444.4 317.0 L445.4 316.5 L446.4 316.3 L447.3 315.5 L448.3 312.2 L449.3 309.7 L450.2 308.6 L451.2 307.8 L452.2 305.2 L453.1 301.7 L454.1 298.3 L455.1 294.7 L456.1 292.5 L457.0 287.9 L458.0 283.9 L459.0 282.9 L459.9 282.3 L460.9 282.2 L461.9 282.9 L462.8 283.0 L463.8 285.0 L464.8 288.1 L465.7 288.8 L466.7 289.8 L467.7 291.4 L468.6 294.7 L469.6 297.9 L470.6 300.5 L471.6 302.4 L472.5 305.9 L473.5 309.2 L474.5 313.3 L475.4 318.1 L476.4 322.7 L477.4 328.0 L478.3 331.9 L479.3 336.5 L480.3 340.2 L481.2 344.2 L482.2 347.0 L483.2 348.9 L484.1 350.6 L485.1 352.0 L486.1 350.8 L487.1 352.9 L488.0 353.9 L489.0 356.6 L490.0 360.8 L490.9 364.4 L491.9 367.2 L492.9 370.0 L493.8 372.1 L494.8 377.7 L495.8 381.5 L496.7 384.1 L497.7 386.6 L498.7 387.9 L499.6 388.9 L500.6 387.7 L501.6 385.0 L502.6 384.2 L503.5 386.2 L504.5 386.8 L505.5 388.5 L506.4 390.6 L507.4 391.7 L508.4 391.7 L509.3 391.9 L510.3 391.1 L511.3 390.2 L512.2 390.0 L513.2 390.0 L514.2 389.5 L515.2 389.4 L516.1 390.3 L517.1 390.9 L518.1 392.4 L519.0 392.3 L520.0 393.9 L521.0 394.6 L521.9 394.1 L522.9 394.0 L523.9 394.4 L524.8 395.0 L525.8 394.5 L526.8 393.0 L527.7 393.3 L528.7 395.1 L529.7 395.8 L530.7 397.1 L531.6 395.5 L532.6 393.5 L533.6 391.5 L534.5 390.8 L535.5 389.5 L536.5 390.2 L537.4 390.3 L538.4 389.6 L539.4 389.9 L540.3 390.0 L541.3 389.3 L542.3 389.6 L543.2 386.1 L544.2 383.9 L545.2 386.3 L546.2 386.8 L547.1 386.0 L548.1 386.2 L549.1 383.9 L550.0 382.5 L551.0 381.4 L552.0 379.4 L552.9 379.0 L553.9 382.1 L554.9 382.8 L555.8 380.6 L556.8 381.2 L557.8 380.1 L558.7 379.2 L559.7 379.0 L560.7 375.9 L561.7 375.9 L562.6 377.8 L563.6 378.4 L564.6 376.7 L565.5 374.6 L566.5 372.1 L567.5 371.6 L568.4 369.6 L569.4 369.3 L570.4 368.5 L571.3 369.4 L572.3 367.3 L573.3 367.6 L574.3 368.9 L575.2 368.2 L576.2 366.2 L577.2 364.5 L578.1 361.4 L579.1 361.7 L580.1 361.7 L581.0 359.1 L582.0 360.1 L583.0 360.3 L583.9 360.5 L584.9 362.4 L585.9 360.5 L586.8 358.6 L587.8 357.0 L588.8 356.6 L589.8 355.8 L590.7 356.5 L591.7 355.9 L592.7 359.3 L593.6 361.1 L594.6 363.9 L595.6 363.6 L596.5 365.3 L597.5 362.6 L598.5 360.7 L599.4 356.3 L600.4 352.9 L601.4 348.8 L602.3 348.0 L603.3 345.9 L604.3 341.1 L605.3 337.5 L606.2 334.5 L607.2 332.8 L608.2 332.9 L609.1 331.8 L610.1 331.5 L611.1 335.7 L612.0 335.9 L613.0 333.8 L614.0 335.2 L614.9 336.8 L615.9 340.5 L616.9 341.9 L617.9 340.9 L618.8 341.8 L619.8 344.8 L620.8 347.8 L621.7 349.8 L622.7 352.0 L623.7 352.6 L624.6 353.3 L625.6 357.7 L626.6 357.9 L627.5 360.8 L628.5 362.9 L629.5 364.4 L630.4 364.5 L631.4 367.6 L632.4 367.5 L633.4 367.1 L634.3 365.6 L635.3 365.9 L636.3 367.0 L637.2 368.8 L638.2 370.0 L639.2 371.3 L640.1 374.3 L641.1 377.3 L642.1 379.2 L643.0 379.8 L644.0 379.4 L645.0 377.8 L645.9 380.0 L646.9 380.4 L647.9 382.1 L648.9 384.8 L649.8 387.3 L650.8 388.0 L651.8 389.4 L652.7 389.1 L653.7 388.8 L654.7 389.5 L655.6 388.0 L656.6 387.8 L657.6 388.4 L658.5 390.0 L659.5 390.8 L660.5 393.6 L661.4 395.1 L662.4 397.7 L663.4 399.0 L664.4 400.4 L665.3 402.0 L666.3 403.6 L667.3 401.7 L668.2 399.5 L669.2 397.7 L670.2 396.9 L671.1 397.0 L672.1 397.0 L673.1 396.5 L674.0 397.7 L675.0 398.5 L676.0 399.9 L677.0 399.7 L677.9 400.7 L678.9 401.6 L679.9 402.4 L680.8 401.9 L681.8 401.5 L682.8 402.9 L683.7 401.9 L684.7 400.7 L685.7 401.8 L686.6 403.2 L687.6 405.1 L688.6 404.8 L689.5 404.5 L690.5 406.9 L691.5 408.5 L692.5 408.6 L693.4 409.9 L694.4 410.5 L695.4 411.5 L696.3 410.8 L697.3 410.4 L698.3 410.4 L699.2 411.3 L700.2 410.1 L701.2 409.0 L702.1 408.7 L703.1 408.7 L704.1 409.4 L705.0 408.5 L706.0 407.7 L707.0 406.3 L708.0 406.1 L708.9 406.3 L709.9 405.7 L710.9 404.9 L711.8 407.8 L712.8 407.7 L713.8 409.0 L714.7 408.3 L715.7 409.5 L716.7 411.1 L717.6 410.0 L718.6 407.2 L719.6 406.5 L720.5 406.5 L721.5 407.0 L722.5 404.6 L723.5 402.4 L724.4 401.6 L725.4 401.5 L726.4 403.2 L727.3 403.3 L728.3 404.2 L729.3 405.0 L730.2 404.0 L731.2 404.0 L732.2 403.2 L733.1 401.0 L734.1 400.3 L735.1 399.0 L736.1 400.3 L737.0 402.4 L738.0 403.8 L739.0 405.5 L739.9 404.1 L740.9 402.4 L741.9 401.3 L742.8 398.4 L743.8 396.1 L744.8 395.8 L745.7 394.6 L746.7 396.6 L747.7 397.8 L748.6 397.8 L749.6 398.9 L750.6 399.8 L751.6 396.2 L752.5 394.6 L753.5 392.6 L754.5 393.2 L755.4 393.0 L756.4 392.2 L757.4 389.4 L758.3 389.5 L759.3 388.3 L760.3 387.3 L761.2 385.9 L762.2 386.1 L763.2 383.9 L764.1 384.6 L765.1 384.4 L766.1 383.5 L767.1 382.8 L768.0 381.0 L769.0 379.6 L770.0 381.8 L770.9 377.7 L771.9 376.7 L772.9 375.2 L773.8 375.6 L774.8 376.1 L775.8 376.7 L776.7 377.3 L777.7 381.3 L778.7 381.4 L779.6 381.9 L780.6 380.4 L781.6 379.8 L782.6 380.5 L783.5 382.5 L784.5 383.4 L785.5 385.9 L786.4 387.3 L787.4 389.1 L788.4 390.0 L789.3 390.2 L790.3 389.3 L791.3 390.3 L792.2 390.4 L793.2 391.1 L794.2 391.8 L795.2 394.4 L796.1 394.4 L797.1 395.6 L798.1 395.9 L799.0 395.5 L800.0 395.9 L801.0 395.4 L801.9 394.0 L802.9 394.9 L803.9 394.1 L804.8 395.1 L805.8 395.3 L806.8 395.5 L807.7 394.8 L808.7 396.9 L809.7 396.8 L810.7 397.3 L811.6 397.4 L812.6 396.6 L813.6 396.3 L814.5 396.4 L815.5 394.6 L816.5 395.8 L817.4 396.3 L818.4 395.2 L819.4 396.7 L820.3 396.7 L821.3 395.7 L822.3 395.9 L823.2 395.5 L824.2 394.4 L825.2 395.6 L826.2 396.0 L827.1 396.4 L828.1 397.5 L829.1 399.5 L830.0 400.6 L831.0 402.9 L832.0 401.9 L832.9 400.1 L833.9 399.4 L834.9 401.2 L835.8 400.9 L836.8 402.7 L837.8 402.4 L838.8 403.6 L839.7 404.3 L840.7 404.8 L841.7 403.3 L842.6 402.6 L843.6 402.8 L844.6 405.4 L845.5 405.0 L846.5 404.5 L847.5 404.0 L848.4 403.4 L849.4 402.7 L850.4 403.1 L851.3 404.0 L852.3 404.8 L853.3 406.1 L854.3 407.4 L855.2 408.7 L856.2 410.9 L857.2 413.5 L858.1 415.2 L859.1 416.1 L860.1 417.1 L861.0 417.0 L862.0 416.8 L863.0 416.6 L863.9 415.9 L864.9 415.2 L865.9 416.1 L866.8 417.0 L867.8 417.9 L868.8 418.7 L869.8 419.5 L870.7 420.4 L871.7 421.4 L872.7 421.2 L873.6 421.0 L874.6 420.4 L875.6 420.2 L876.5 421.3 L877.5 422.5 L878.0 423.0" fill="none" stroke="#e95656" stroke-width="2.2" stroke-linejoin="round" stroke-linecap="round"/>
<text y="482.7" font-size="12.5" fill="#484848"><tspan x="25.30" textLength="43.92" lengthAdjust="spacingAndGlyphs">Source:</tspan> <tspan x="70.44" textLength="48.58" lengthAdjust="spacingAndGlyphs">National</tspan> <tspan x="121.78" textLength="52.40" lengthAdjust="spacingAndGlyphs">Notifiable</tspan> <tspan x="177.44" textLength="49.22" lengthAdjust="spacingAndGlyphs">Diseases</tspan> <tspan x="229.80" textLength="68.38" lengthAdjust="spacingAndGlyphs">Surveillance</tspan> <tspan x="302.48" textLength="43.56" lengthAdjust="spacingAndGlyphs">System,</tspan> <tspan x="348.98" textLength="26.68" lengthAdjust="spacingAndGlyphs">as at</tspan> <tspan x="379.32" textLength="13.02" lengthAdjust="spacingAndGlyphs">29</tspan> <tspan x="395.94" textLength="20.06" lengthAdjust="spacingAndGlyphs">Feb</tspan> <tspan x="420.82" textLength="26.68" lengthAdjust="spacingAndGlyphs">2024</tspan></text>
</svg>
</body></html>
